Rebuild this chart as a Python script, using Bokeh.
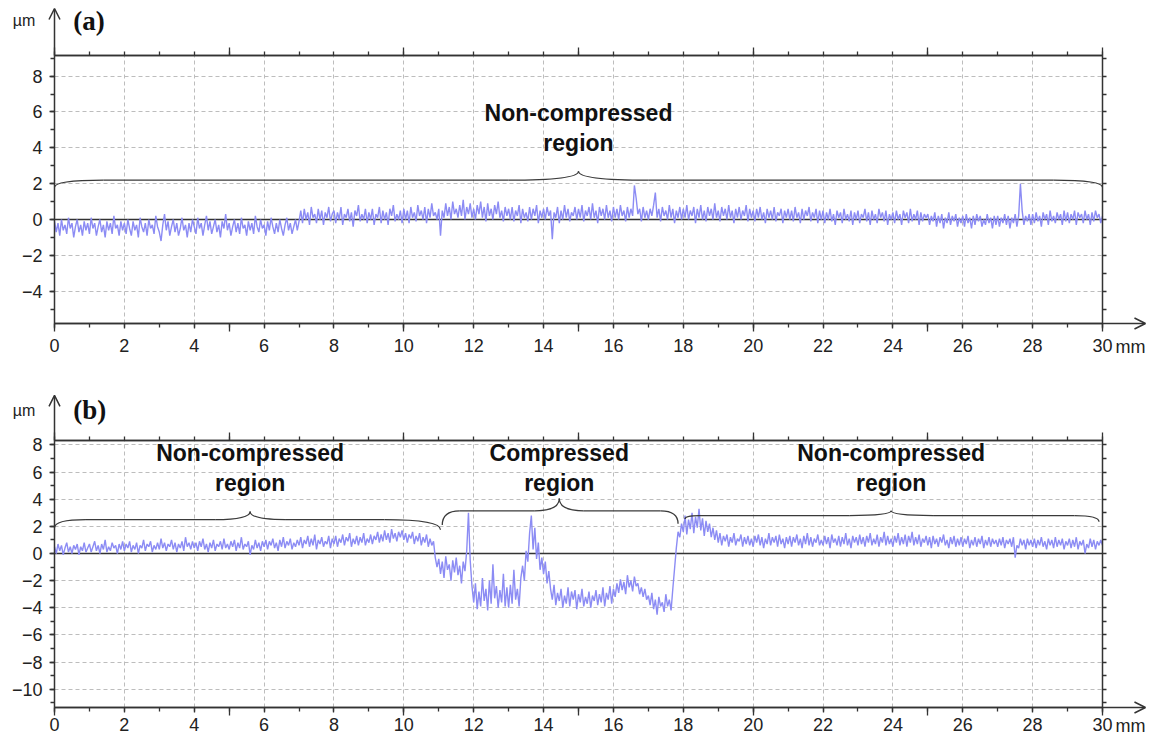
import numpy as np
from bokeh.plotting import figure
from bokeh.layouts import column
from bokeh.models import Range1d, LinearAxis, FixedTicker, Grid, Label, Arrow, OpenHead
from bokeh.embed import file_html
from bokeh.resources import INLINE

# ---------------- data ----------------
# surface height (um) sampled every 0.05 mm from 0 to 30 mm
profile_a = [
    -0.1, -0.7, -0.2, -0.9, 0.0, -0.6, -0.3, -0.8, 0.1, -0.5, -0.2, -1.0, -0.4, 0.0, -0.7, -0.3, -0.9, -0.1, -0.6, -0.2,
    -0.8, 0.1, -0.5, -0.2, -0.9, -0.4, 0.0, -0.7, -0.3, -1.0, -0.1, -0.6, -0.2, -0.8, 0.2, -0.5, -0.3, -0.9, -0.1, -0.6,
    -0.2, -0.8, 0.0, -0.5, -0.9, -0.1, -0.6, -0.3, -1.0, 0.1, -0.4, -0.7, -0.2, -0.9, 0.0, -0.5, -0.3, -0.8, 0.2, -0.4,
    -0.7, -1.2, -0.3, 0.3, -0.6, -0.1, -0.9, -0.4, 0.0, -0.7, -0.2, -0.9, -0.5, 0.1, -0.6, -0.3, -1.0, -0.2, -0.7, 0.0,
    -0.4, -0.8, 0.1, -0.5, -0.2, -0.9, -0.3, 0.2, -0.6, -0.1, -0.8, -0.4, 0.0, -0.7, -0.3, -1.0, -0.1, -0.5, 0.3, -0.6,
    -0.2, -0.9, -0.4, 0.0, -0.7, -0.2, -0.8, 0.1, -0.5, -0.3, -0.9, -0.1, -0.6, -0.2, -0.8, 0.2, -0.4, -0.7, 0.0, -0.5,
    -0.3, -0.9, -0.1, -0.6, 0.1, -0.4, -0.8, -0.2, -0.7, 0.0, -0.5, -0.9, -0.3, 0.1, -0.6, -0.2, -0.8, -0.4, 0.0, -0.6,
    -0.1, 0.5, -0.2, 0.6, 0.0, 0.4, -0.3, 0.7, 0.1, 0.3, -0.2, 0.6, 0.0, 0.5, -0.3, 0.4, 0.1, 0.7, -0.1, 0.3,
    0.5, -0.2, 0.4, 0.0, 0.7, -0.3, 0.3, 0.1, 0.6, -0.1, 0.4, -0.4, 0.5, 0.2, 0.8, -0.1, 0.3, 0.0, 0.6, -0.2,
    0.4, 0.0, 0.6, -0.3, 0.3, 0.1, 0.7, -0.2, 0.5, 0.0, 0.4, -0.3, 0.6, 0.2, 0.8, -0.1, 0.3, 0.0, 0.5, -0.2,
    0.6, 0.0, 0.5, -0.2, 0.7, 0.1, 0.4, -0.1, 0.8, 0.2, 0.5, 0.0, 0.7, -0.2, 0.6, 0.1, 0.9, 0.2, 0.4, 0.0,
    0.6, -0.9, 0.5, 0.1, 0.9, 0.2, 0.7, 0.0, 1.0, 0.3, 0.6, 0.1, 0.8, 0.2, 1.1, 0.0, 0.7, 0.3, 0.9, 0.1,
    0.6, 0.0, 0.8, 0.3, 1.0, 0.1, 0.7, -0.1, 0.9, 0.2, 0.6, 0.0, 0.8, 0.3, 1.0, 0.1, 0.5, -0.1, 0.7, 0.2,
    0.6, 0.0, 0.7, -0.1, 0.5, 0.2, 0.8, -0.2, 0.6, 0.1, 0.4, -0.1, 0.7, 0.0, 0.6, 0.2, 0.8, -0.2, 0.5, 0.1,
    0.6, 0.0, 0.7, 0.2, 0.5, -1.1, 0.4, 0.1, 0.7, -0.2, 0.5, 0.0, 0.8, 0.1, 0.6, -0.1, 0.4, 0.2, 0.7, 0.0,
    0.6, 0.1, 0.8, -0.1, 0.5, 0.2, 0.7, 0.0, 0.9, 0.1, 0.5, -0.2, 0.7, 0.2, 0.6, 0.0, 0.8, 0.1, 0.5, -0.1,
    0.7, 0.1, 0.6, 0.0, 0.8, 0.2, 0.5, -0.1, 0.7, 0.1, 0.6, 0.2, 1.9, 1.2, 0.3, 0.6, -0.1, 0.7, 0.1, 0.5,
    0.0, 0.6, 0.2, 0.8, 1.5, 0.1, 0.6, -0.1, 0.7, 0.2, 0.5, 0.0, 0.8, 0.1, 0.6, -0.2, 0.5, 0.1, 0.7, 0.0,
    0.6, 0.1, 0.8, 0.0, 0.5, 0.2, 0.7, -0.2, 0.6, 0.1, 0.8, 0.0, 0.5, -0.1, 0.7, 0.2, 0.6, 0.0, 0.9, 0.1,
    0.5, -0.1, 0.7, 0.2, 0.6, 0.0, 0.8, 0.1, 0.5, -0.2, 0.6, 0.1, 0.7, 0.0, 0.5, 0.2, 0.8, -0.1, 0.6, 0.1,
    0.5, -0.1, 0.6, 0.1, 0.7, 0.0, 0.4, -0.2, 0.6, 0.1, 0.5, 0.0, 0.7, -0.1, 0.4, 0.2, 0.6, -0.2, 0.5, 0.1,
    0.6, 0.0, 0.5, -0.1, 0.7, 0.1, 0.4, -0.2, 0.6, 0.0, 0.5, 0.2, 0.7, -0.1, 0.4, 0.1, 0.6, -0.2, 0.5, 0.0,
    0.5, -0.2, 0.4, 0.0, 0.6, -0.1, 0.3, -0.3, 0.5, 0.1, 0.4, -0.2, 0.6, 0.0, 0.3, -0.1, 0.5, -0.3, 0.4, 0.0,
    0.5, -0.2, 0.3, 0.1, 0.6, -0.1, 0.4, -0.3, 0.5, 0.0, 0.3, -0.2, 0.6, 0.1, 0.4, -0.1, 0.5, -0.3, 0.3, 0.0,
    0.4, -0.2, 0.5, 0.0, 0.3, -0.3, 0.5, 0.1, 0.4, -0.2, 0.6, -0.1, 0.3, 0.0, 0.5, -0.3, 0.4, -0.1, 0.3, 0.1,
    0.3, -0.3, 0.2, -0.1, 0.4, -0.4, 0.2, -0.2, 0.3, -0.5, 0.1, -0.2, 0.4, -0.3, 0.2, -0.1, 0.3, -0.4, 0.1, -0.2,
    0.2, -0.4, 0.3, -0.2, 0.1, -0.5, 0.2, -0.3, 0.3, -0.1, 0.2, -0.4, 0.0, -0.3, 0.3, -0.2, 0.1, -0.5, 0.2, -0.3,
    0.2, -0.4, 0.1, -0.2, 0.3, -0.3, 0.2, -0.5, 0.1, -0.2, 0.3, -0.4, 0.2, 2.0, 0.5, -0.3, 0.2, -0.1, 0.3, -0.3,
    0.3, -0.2, 0.4, -0.1, 0.2, -0.4, 0.4, 0.0, 0.3, -0.3, 0.5, -0.1, 0.2, -0.2, 0.4, 0.0, 0.3, -0.3, 0.5, -0.1,
    0.4, -0.2, 0.3, 0.0, 0.5, -0.3, 0.4, 0.1, 0.3, -0.2, 0.5, 0.0, 0.3, -0.3, 0.4, -0.1, 0.5, 0.1, 0.3, -0.2,
    0.2,
]

profile_b = [
    0.5, 0.0, 0.7, 0.2, 0.6, -0.1, 0.4, 0.8, 0.1, 0.5, 0.0, 0.6, 0.3, 0.7, -0.1, 0.5, 0.2, 0.8, 0.1, 0.4,
    0.7, 0.1, 0.5, 0.9, 0.2, 0.6, 0.0, 0.7, 0.3, 1.0, 0.1, 0.5, 0.2, 0.8, 0.4, 0.6, 0.0, 0.7, 0.3, 0.9,
    0.2, 0.7, 0.4, 0.9, 0.1, 0.6, 0.3, 0.8, 0.0, 0.6, 0.4, 1.0, 0.2, 0.7, 0.5, 0.9, 0.1, 0.6, 0.3, 0.8,
    0.3, 1.1, 0.4, 0.8, 0.2, 0.7, 0.5, 1.0, 0.3, 0.8, 0.1, 0.7, 0.4, 0.9, 0.2, 1.2, 0.5, 0.8, 0.3, 0.9,
    0.4, 0.8, 0.2, 0.9, 0.5, 1.1, 0.3, 0.7, 0.1, 0.8, 0.4, 1.0, 0.2, 0.7, 0.5, 0.9, 0.3, 1.1, 0.4, 0.7,
    0.3, 0.9, 0.5, 1.0, 0.2, 0.8, 0.4, 1.2, 0.3, 0.7, 0.5, 0.9, -0.1, 0.6, 0.3, 1.0, 0.4, 0.8, 0.2, 0.9,
    0.5, 1.0, 0.3, 0.9, 0.6, 1.1, 0.4, 0.8, 0.2, 1.0, 0.5, 1.2, 0.4, 0.9, 0.6, 1.1, 0.3, 0.8, 0.5, 1.0,
    0.6, 1.2, 0.4, 1.0, 0.7, 1.3, 0.5, 1.1, 0.6, 1.4, 0.3, 1.0, 0.7, 1.2, 0.5, 0.9, 0.7, 1.3, 0.4, 1.1,
    0.7, 1.3, 0.5, 1.1, 0.8, 1.4, 0.6, 1.2, 0.9, 1.5, 0.5, 1.1, 0.7, 1.3, 0.6, 1.2, 0.8, 1.5, 0.6, 1.1,
    0.8, 1.4, 0.7, 1.3, 1.0, 1.6, 0.8, 1.4, 0.9, 1.7, 1.0, 1.5, 0.8, 1.8, 1.1, 1.5, 0.9, 1.6, 1.2, 1.7,
    1.0, 1.5, 0.8, 1.4, 1.1, 1.6, 0.7, 1.3, 0.9, 1.5, 0.6, 1.2, 0.8, 1.4, 0.5, 1.1, 0.6, 0.9, -0.3, -1.0,
    -0.4, -1.5, -0.6, -1.8, -0.2, -1.2, -0.8, -2.0, -0.5, -1.4, -0.3, -1.6, -0.9, -2.2, -0.6, -1.3, 0.2, 3.0, -0.5, -2.4,
    -3.6, -2.2, -4.1, -2.8, -3.9, -1.8, -3.5, -2.6, -4.2, -2.0, -3.7, -0.8, -3.3, -2.4, -4.0, -2.7, -3.6, -1.5, -3.9, -2.5,
    -4.0, -2.3, -3.7, -1.2, -3.4, -2.6, -3.9, -1.8, -0.9, -2.0, 0.2, -0.6, 1.5, 2.8, 0.3, 1.9, -0.4, 0.8, -1.2, -0.3,
    -1.5, -0.6, -2.2, -1.3, -2.6, -3.4, -2.3, -3.8, -2.9, -3.5, -2.6, -4.0, -3.1, -3.7, -2.5, -3.9, -2.8, -3.4, -2.7, -4.1,
    -3.0, -3.6, -2.6, -3.9, -3.2, -3.7, -2.8, -4.0, -3.1, -3.5, -2.7, -3.8, -3.0, -3.6, -2.5, -3.9, -2.9, -3.4, -2.4, -3.7,
    -2.6, -3.2, -2.2, -2.9, -1.9, -2.7, -2.1, -3.0, -1.6, -2.5, -2.0, -2.8, -1.7, -2.4, -2.2, -3.0, -2.5, -3.2, -2.6, -3.4,
    -3.1, -3.8, -2.9, -4.1, -3.4, -4.5, -3.2, -3.9, -3.6, -4.3, -3.0, -3.9, -3.4, -4.2, -2.6, -1.1, 0.4, 1.6, 1.2, 2.2,
    1.6, 2.8, 1.4, 2.5, 1.8, 3.0, 1.5, 2.7, 1.9, 3.3, 1.7, 2.6, 1.3, 2.4, 1.6, 2.2, 1.2, 1.9, 1.0, 1.7,
    0.8, 1.5, 0.6, 1.3, 0.9, 1.4, 0.5, 1.2, 0.8, 1.5, 0.6, 1.1, 0.9, 1.4, 0.5, 1.2, 0.7, 1.3, 0.6, 1.1,
    0.5, 1.3, 0.8, 1.4, 0.6, 1.2, 0.4, 1.1, 0.7, 1.5, 0.6, 1.2, 0.8, 1.3, 0.5, 1.4, 0.7, 1.1, 0.4, 1.2,
    0.7, 1.3, 0.5, 1.2, 0.8, 1.4, 0.6, 1.1, 0.4, 1.3, 0.7, 1.5, 0.6, 1.2, 0.5, 1.1, 0.8, 1.4, 0.6, 1.0,
    0.6, 1.3, 0.7, 1.2, 0.4, 1.4, 0.8, 1.1, 0.6, 1.3, 0.5, 1.2, 0.7, 1.5, 0.6, 1.1, 0.4, 1.3, 0.8, 1.2,
    0.6, 1.4, 0.7, 1.2, 0.5, 1.3, 0.8, 1.5, 0.6, 1.1, 0.7, 1.4, 0.5, 1.2, 0.8, 1.6, 0.6, 1.3, 0.7, 1.1,
    0.5, 1.3, 0.8, 1.5, 0.6, 1.2, 0.7, 1.4, 0.5, 1.3, 0.8, 1.6, 0.6, 1.2, 0.7, 1.4, 0.5, 1.1, 0.8, 1.3,
    0.6, 1.2, 0.4, 1.3, 0.7, 1.1, 0.5, 1.2, 0.8, 1.4, 0.6, 1.0, 0.4, 1.2, 0.7, 1.3, 0.5, 1.1, 0.6, 1.2,
    0.5, 1.1, 0.7, 1.3, 0.4, 1.0, 0.6, 1.2, 0.5, 1.1, 0.7, 1.3, 0.4, 1.0, 0.6, 1.2, 0.5, 1.1, 0.7, 1.0,
    0.5, 1.1, 0.6, 1.2, 0.4, 1.0, 0.7, 1.1, 0.5, 1.2, -0.3, 0.6, 0.4, 1.1, 0.6, 1.0, 0.3, 1.1, 0.6, 1.0,
    0.5, 1.1, 0.4, 1.0, 0.6, 1.2, 0.5, 0.9, 0.3, 1.1, 0.6, 1.0, 0.4, 1.2, 0.5, 1.0, 0.6, 1.1, 0.3, 0.9,
    0.6, 1.1, 0.4, 1.0, 0.5, 1.2, 0.3, 0.9, 0.6, 1.0, 0.0, 0.7, 0.4, 1.1, 0.5, 1.0, 0.3, 0.9, 0.6, 1.0,
    0.6,
]

x_major_ticks = [0, 2, 4, 6, 8, 10, 12, 14, 16, 18, 20, 22, 24, 26, 28, 30]
x_grid_ticks = [2, 4, 6, 8, 10, 12, 14, 16, 18, 20, 22, 24, 26, 28]
x_minor_ticks = list(range(0, 31))
x_long_ticks = [0, 5, 10, 15, 20, 25, 30]

y_ticks_a = [-4, -2, 0, 2, 4, 6, 8]
y_minor_a = [-5, -4, -3, -2, -1, 0, 1, 2, 3, 4, 5, 6, 7, 8, 9]
y_ticks_b = [-10, -8, -6, -4, -2, 0, 2, 4, 6, 8]
y_minor_b = [-11, -10, -9, -8, -7, -6, -5, -4, -3, -2, -1, 0, 1, 2, 3, 4, 5, 6, 7, 8]

# regions (start, end, centre in mm) and their names
regions_a_start = [0.0]
regions_a_end = [30.0]
regions_a_mid = [15.0]
regions_a_name = ["Non-compressed\nregion"]

regions_b_start = [0.0, 11.1, 18.05]
regions_b_end = [11.05, 17.85, 29.9]
regions_b_mid = [5.6, 14.45, 23.95]
regions_b_name = ["Non-compressed\nregion", "Compressed\nregion", "Non-compressed\nregion"]

# ---------------- styling ----------------
AX = "#333333"
TRACE = "#8c8cf4"
FONT = "Liberation Sans"
W = 1154
LEFT_PX, RIGHT_PX = 54, 52          # space left/right of the 0..30 mm area


def draw_brace(p, x0, x1, xm, e0, e1, lev, peak, a0, a1, b0, b1):
    p.quadratic(x0=[x0, xm - b0, xm + b1, x1 - a1],
                y0=[e0, lev, lev, lev],
                x1=[x0 + a0, xm, xm, x1],
                y1=[lev, peak, peak, e1],
                cx=[x0, xm, xm, x1],
                cy=[lev, lev, lev, lev],
                line_color="#3a3a3a", line_width=1.3)
    p.segment(x0=[x0 + a0, xm + b1], y0=[lev, lev],
              x1=[xm - b0, x1 - a1], y1=[lev, lev],
              line_color="#3a3a3a", line_width=1.3)


def style_axis(ax):
    ax.axis_line_color = AX
    ax.axis_line_width = 1.5
    ax.major_tick_line_color = AX
    ax.minor_tick_line_color = AX
    ax.major_tick_line_width = 1.3
    ax.minor_tick_line_width = 1.3
    ax.major_tick_in = 0
    ax.minor_tick_in = 0
    ax.major_tick_out = 5
    ax.minor_tick_out = 4
    ax.major_label_text_font = FONT
    ax.major_label_text_font_size = "18px"
    ax.major_label_text_color = "#222222"


def make_panel(profile, ylo, yhi, yticks, yminor, btop, fh, bbot, tag,
               arrow_top, unit_y, mm_y, xstandoff):
    H = btop + fh + bbot
    pxmm = (W - LEFT_PX - RIGHT_PX) / 30.0
    pxu = fh / (yhi - ylo)
    xr = Range1d(-LEFT_PX / pxmm, 30 + RIGHT_PX / pxmm)
    yr = Range1d(ylo - bbot / pxu, yhi + btop / pxu)
    p = figure(width=W, height=H, x_range=xr, y_range=yr,
               output_backend="svg", toolbar_location=None,
               x_axis_location=None, y_axis_location=None,
               min_border=0)
    p.outline_line_color = None
    p.background_fill_color = "white"
    p.xgrid.visible = False
    p.ygrid.visible = False

    # dashed grid limited to the plotting area
    gx = Grid(dimension=0, ticker=FixedTicker(ticks=x_grid_ticks),
              cross_bounds=(ylo, yhi))
    gy = Grid(dimension=1, ticker=FixedTicker(ticks=yticks),
              cross_bounds=(0, 30))
    for g in (gx, gy):
        g.grid_line_color = "#bdbdbd"
        g.grid_line_dash = "4 3"
        g.grid_line_width = 1
        p.add_layout(g)

    # axes fixed at the edges of the 0..30 mm area
    bottom = LinearAxis(fixed_location=ylo, bounds=(0, 30),
                        ticker=FixedTicker(ticks=x_major_ticks, minor_ticks=x_minor_ticks))
    bottom_long = LinearAxis(fixed_location=ylo, bounds=(0, 30),
                             ticker=FixedTicker(ticks=[], minor_ticks=x_long_ticks))
    top = LinearAxis(fixed_location=yhi, bounds=(0, 30),
                     ticker=FixedTicker(ticks=[], minor_ticks=x_minor_ticks))
    top_long = LinearAxis(fixed_location=yhi, bounds=(0, 30),
                          ticker=FixedTicker(ticks=[], minor_ticks=x_long_ticks))
    left = LinearAxis(fixed_location=0, bounds=(ylo, yhi),
                      ticker=FixedTicker(ticks=yticks, minor_ticks=yminor))
    right = LinearAxis(fixed_location=30, bounds=(ylo, yhi),
                       ticker=FixedTicker(ticks=[], minor_ticks=yminor))
    for ax in (bottom, bottom_long, top, top_long, left, right):
        style_axis(ax)
    bottom.major_label_standoff = xstandoff
    left.major_label_standoff = 7
    bottom_long.minor_tick_out = 8
    top_long.minor_tick_out = 8
    p.add_layout(bottom, "below")
    p.add_layout(bottom_long, "below")
    p.add_layout(top, "above")
    p.add_layout(top_long, "above")
    p.add_layout(left, "left")
    p.add_layout(right, "right")

    # zero line (under the trace)
    p.segment(x0=[0], y0=[0], x1=[30], y1=[0], line_color=AX, line_width=1.5)

    # trace
    xs = np.linspace(0, 30, len(profile))
    p.line(xs, profile, line_color=TRACE, line_width=1.4)

    # axis arrows
    p.add_layout(Arrow(end=OpenHead(size=11, line_color=AX, line_width=1.5),
                       x_start=30, y_start=ylo, x_end=31.23, y_end=ylo,
                       line_color=AX, line_width=1.5))
    p.add_layout(Arrow(end=OpenHead(size=11, line_color=AX, line_width=1.5),
                       x_start=0, y_start=yhi, x_end=0, y_end=arrow_top,
                       line_color=AX, line_width=1.5))

    p.add_layout(Label(x=-0.55, y=unit_y, text="\u00b5m", text_font=FONT,
                       text_font_size="16px", text_color="#222222",
                       text_align="right", text_baseline="middle"))
    p.add_layout(Label(x=0.54, y=unit_y, text=tag, text_font="Liberation Serif",
                       text_font_style="bold", text_font_size="27px",
                       text_color="#111111", text_align="left",
                       text_baseline="middle"))
    p.add_layout(Label(x=30.37, y=mm_y, text="mm", text_font=FONT,
                       text_font_size="18px", text_color="#222222",
                       text_align="left", text_baseline="middle"))
    return p


def region_label(p, x, y, text):
    p.add_layout(Label(x=x, y=y, text=text, text_font=FONT,
                       text_font_style="bold", text_font_size="23px",
                       text_color="#111111", text_align="center",
                       text_baseline="middle", text_line_height=1.15))


pa = make_panel(profile_a, -5.8, 9.15, y_ticks_a, y_minor_a, 55, 268, 57,
                "(a)", 11.77, 11.1, -7.11, 10)
draw_brace(pa, regions_a_start[0], regions_a_end[0], regions_a_mid[0],
           1.8, 1.8, 2.2, 2.7, 1.4, 1.4, 2.0, 2.0)
region_label(pa, regions_a_mid[0], 5.1, regions_a_name[0])

pb = make_panel(profile_b, -11.35, 8.33, y_ticks_b, y_minor_b, 60, 267, 36,
                "(b)", 11.65, 10.55, -12.7, 5)
brace_shape_b = [
    (1.9, 1.75, 2.5, 3.1, 0.9, 1.6, 1.0, 1.0),
    (2.1, 2.2, 3.15, 4.05, 0.5, 0.5, 0.7, 0.7),
    (2.55, 2.35, 2.8, 3.15, 0.4, 0.7, 1.2, 1.2),
]
label_y_b = 6.27
for s, e, m, name, shp in zip(regions_b_start, regions_b_end, regions_b_mid,
                              regions_b_name, brace_shape_b):
    draw_brace(pb, s, e, m, *shp)
    region_label(pb, m, label_y_b, name)

layout = column(pa, pb, spacing=0)
open("out.html", "w").write(file_html(layout, INLINE))
